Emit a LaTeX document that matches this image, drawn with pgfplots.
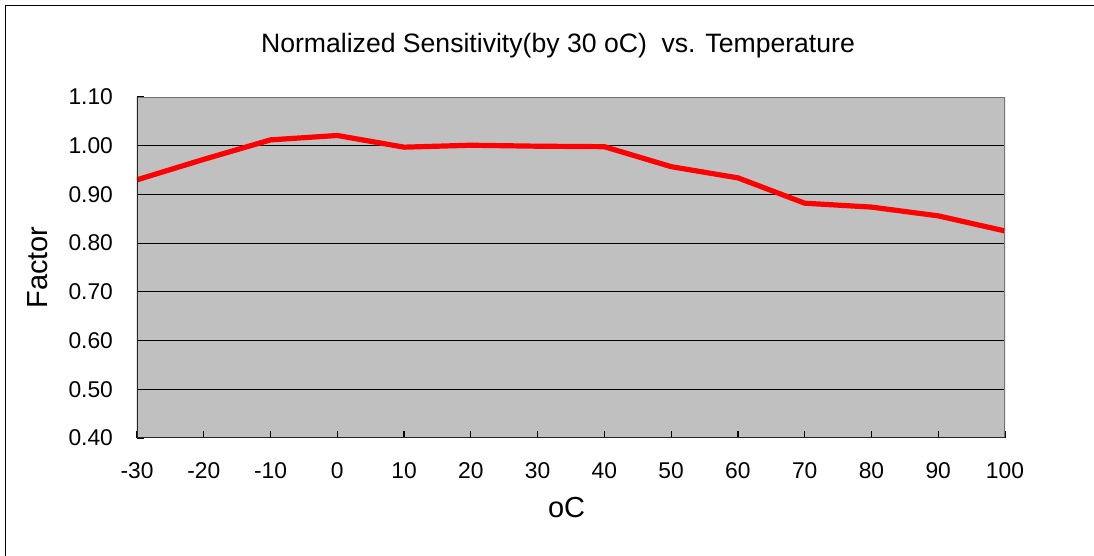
\documentclass[border=0pt]{standalone}
\usepackage{pgfplots}
\pgfplotsset{compat=1.18}
\usepackage{fontspec}
\setmainfont{Liberation Sans}
\definecolor{bg}{RGB}{192,192,192}
\definecolor{redline}{RGB}{255,0,0}
\begin{document}
\begin{tikzpicture}
\useasboundingbox (0,0) rectangle (547pt,278pt);
\begin{axis}[
  scale only axis,
  width=434pt, height=170.5pt,
  at={(68.5pt,59pt)}, anchor=south west,
  xmin=-30, xmax=100, ymin=0.4, ymax=1.1,
  xtick={-30,-20,...,100},
  ytick={0.4,0.5,...,1.1},
  yticklabel style={/pgf/number format/fixed, /pgf/number format/fixed zerofill, /pgf/number format/precision=2, xshift=-8.5pt},
  /pgf/number format/assume math mode=true,
  ymajorgrids, grid style={black, line width=0.5pt},
  axis background/.style={fill=bg},
  axis line style={draw=none},
  tick align=inside, major tick length=3.5pt,
  tick style={black, line width=0.6pt},
  xtick pos=bottom, ytick pos=left,
  ticklabel style={font=\fontsize{11.4}{13}\selectfont},
  xticklabel style={yshift=-9pt},
  title={Normalized Sensitivity(by 30 oC)\ \ vs. Temperature},
  title style={font=\fontsize{13.3}{16}\selectfont, anchor=center, yshift=19.5pt, xshift=-6.5pt},
  xlabel={oC},
  xlabel style={font=\fontsize{14.5}{17}\selectfont, at={(axis description cs:0.495,-0.205)}, anchor=center},
  ylabel={Factor},
  ylabel style={font=\fontsize{14.5}{17}\selectfont, at={(axis description cs:-0.115,0.5)}, anchor=center},
]
\addplot[redline, line width=2.6pt, line join=round] coordinates {
(-30,0.930) (-20,0.972) (-10,1.012) (0,1.021) (10,0.997) (20,1.001) (30,0.999)
(40,0.998) (50,0.957) (60,0.934) (70,0.882) (80,0.874) (90,0.856) (100,0.825)};
\draw[gray!90!black, line width=0.75pt] (rel axis cs:0,1) -- (rel axis cs:1,1) -- (rel axis cs:1,0);
\draw[black!85, line width=0.75pt] (rel axis cs:0,1) -- (rel axis cs:0,0) -- (rel axis cs:1,0);
\end{axis}
\draw[black, line width=0.6pt] (2.8pt,0) -- (2.8pt,275.4pt) -- (547pt,275.4pt);
\end{tikzpicture}
\end{document}
